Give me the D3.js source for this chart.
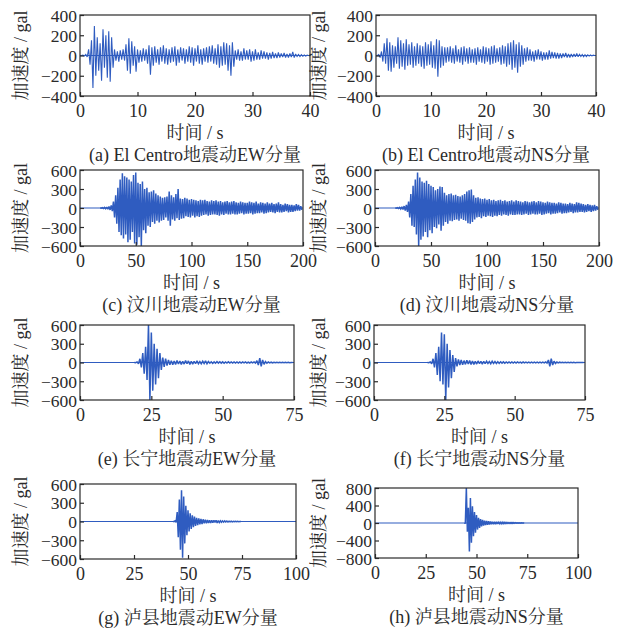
<!DOCTYPE html>
<html><head><meta charset="utf-8">
<script src="https://cdn.jsdelivr.net/npm/d3@7"></script>
<style>body{margin:0;background:#fff} svg{display:block}</style>
</head><body>
<svg id="chart" width="622" height="634"></svg>
<script>
// ---------- text ----------
const panelTitles = [
  "(a) El Centro地震动EW分量", "(b) El Centro地震动NS分量",
  "(c) 汶川地震动EW分量", "(d) 汶川地震动NS分量",
  "(e) 长宁地震动EW分量", "(f) 长宁地震动NS分量",
  "(g) 泸县地震动EW分量", "(h) 泸县地震动NS分量"
];
const xAxisLabel = "时间 / s";
const yAxisLabel = "加速度 / gal";

// ---------- ticks ----------
const xTicksElCentro = [0, 10, 20, 30, 40];
const xTicksWenchuan = [0, 50, 100, 150, 200];
const xTicksChangning = [0, 25, 50, 75];
const xTicksLuxian = [0, 25, 50, 75, 100];
const yTicks400 = [-400, -200, 0, 200, 400];
const yTicks600 = [-600, -300, 0, 300, 600];
const yTicks800 = [-800, -400, 0, 400, 800];

// ---------- series: start time (s), sample step (s), peak values (gal) ----------
const seriesStart = [0, 0, 18, 18, 19, 19, 43, 44];
const seriesStep  = [0.25, 0.25, 1, 1, 0.5, 0.5, 0.5, 0.5];

const elCentroEW = [
  0,0,5,-5, 10,-15,60,-90, 150,-320,290,-200, 180,-150,120,-250, 260,-120,200,-220,
  240,-260,180,-120, 60,-50,40,-60, 50,-40,60,-50, 110,-150,170,-180, 140,-100,90,-160,
  60,-70,50,-60, 70,-50,60,-80, 100,-190,80,-100, 90,-70,60,-90, 80,-60,100,-80,
  70,-90,60,-70, 80,-60,90,-100, 60,-70,80,-50, 70,-80,60,-60, 90,-70,80,-100,
  70,-60,100,-80, 60,-90,70,-60, 80,-70,90,-60, 100,-80,70,-90, 110,-120,90,-100,
  130,-90,120,-150, 100,-200,130,-110, 50,-40,60,-50, 40,-50,70,-40, 50,-40,60,-60,
  40,-50,60,-40, 30,-40,50,-30, 40,-30,30,-40, 25,-30,35,-25, 20,-25,30,-20,
  20,-15,25,-20, 15,-20,20,-15, 35,-20,15,-10, 10,-10,8,-8, 5,-5,3,0
];
const elCentroNS = [
  0,0,10,-20, 40,-60,120,-80, 170,-150,130,-160, 100,-120,90,-80, 180,-130,150,-110,
  120,-140,160,-100, 110,-90,130,-120, 90,-100,120,-80, 100,-110,90,-130, 130,-100,110,-90,
  140,-120,100,-130, 160,-210,150,-120, 90,-100,80,-70, 80,-60,90,-70, 70,-80,100,-60,
  60,-70,80,-90, 90,-60,70,-80, 80,-70,60,-70, 70,-90,80,-60, 60,-70,90,-80,
  80,-60,70,-90, 90,-80,100,-70, 70,-60,80,-90, 100,-80,90,-110, 120,-90,130,-140,
  150,-120,110,-170, 130,-110,100,-90, 70,-60,80,-50, 60,-50,40,-60, 50,-40,60,-40,
  40,-50,30,-40, 30,-40,50,-30, 35,-25,30,-30, 25,-30,20,-25, 20,-15,25,-20,
  15,-20,15,-15, 15,-12,20,-12, 12,-10,10,-12, 8,-10,6,-6, 5,-4,3,0
];
const wenchuanEW = [
  2,-2,
  5,-8,10,-12,15,-20,25,-30,40,-50,
  100,-150,200,-250,320,-380,450,-430,550,-480,
  500,-420,480,-540,450,-500,420,-380,520,-560,
  560,-580,400,-460,380,-600,420,-350,300,-400,
  320,-280,250,-300,260,-220,280,-250,230,-200,
  200,-230,180,-200,160,-190,170,-150,180,-200,
  260,-280,200,-180,170,-200,220,-160,300,-190,
  150,-170,140,-160,160,-130,150,-140,130,-150,
  140,-120,130,-150,120,-130,110,-140,130,-120,
  120,-110,130,-100,110,-120,100,-110,120,-100,
  110,-100,120,-110,100,-120,110,-100,90,-110,
  100,-90,110,-100,90,-100,100,-90,110,-100,
  90,-100,80,-90,100,-80,90,-100,80,-90,
  80,-90,100,-80,90,-100,80,-90,100,-80,
  70,-80,90,-70,80,-90,70,-80,90,-70,
  70,-60,80,-70,60,-80,70,-60,90,-70,
  60,-70,50,-60,70,-50,60,-70,50,-60,
  50,-60,40,-50,60,-40,50,-40,30,-30
];
const wenchuanNS = [
  2,-2,
  5,-8,10,-15,20,-25,30,-40,50,-60,
  100,-150,220,-280,350,-300,450,-420,560,-600,
  480,-500,420,-450,400,-380,430,-460,380,-350,
  350,-400,330,-300,280,-320,300,-260,340,-360,
  330,-280,240,-220,200,-250,220,-200,230,-210,
  200,-190,210,-180,190,-200,180,-170,200,-190,
  220,-200,260,-240,280,-250,290,-220,200,-180,
  160,-150,170,-140,150,-160,140,-130,150,-140,
  130,-120,140,-130,120,-140,130,-120,110,-130,
  120,-110,130,-120,110,-100,120,-110,100,-120,
  110,-100,120,-110,100,-110,120,-100,110,-100,
  100,-110,90,-100,110,-90,100,-110,90,-100,
  100,-90,110,-100,90,-100,110,-90,100,-110,
  90,-100,80,-90,100,-80,90,-100,80,-90,
  80,-90,70,-80,90,-70,80,-90,70,-80,
  70,-80,60,-70,80,-60,70,-80,60,-70,
  90,-70,80,-60,70,-60,60,-70,50,-60,
  60,-50,50,-60,40,-50,50,-40,30,-30
];
const changningEW = [
  0,-2,
  10,-20,60,-80,150,-180,250,-280,600,-600,
  480,-450,300,-350,220,-250,150,-120,80,-70,
  60,-50,40,-35,30,-35,25,-30,30,-25,
  25,-30,20,-25,30,-20,25,-30,20,-25,
  20,-20,25,-20,15,-20,20,-15,25,-20,
  15,-12,12,-15,10,-12,15,-10,12,-10,
  10,-12,10,-8,12,-10,8,-10,10,-8,
  8,-10,10,-8,8,-6,10,-8,6,-8,
  8,-6,10,-10,30,-40,70,-60,40,-30,
  15,-12,8,-6,5,-5,4,-5,3,-4,
  3,-3,2,-3,2,-2,2,-2,1,0
];
const changningNS = [
  0,-2,
  10,-20,60,-80,150,-200,250,-300,480,-350,
  450,-600,300,-400,200,-250,120,-150,70,-60,
  50,-40,40,-35,30,-30,35,-25,30,-30,
  25,-30,20,-25,25,-20,20,-25,20,-20,
  20,-15,15,-20,20,-15,15,-15,12,-15,
  12,-10,10,-12,8,-10,10,-8,10,-8,
  8,-8,10,-6,6,-8,8,-6,6,-6,
  6,-6,5,-6,6,-5,5,-6,5,-5,
  5,-5,8,-10,40,-60,60,-40,20,-15,
  8,-6,5,-4,3,-3,3,-3,2,-2,
  2,-2,2,-2,1,-1,1,-1,0,0
];
const luxianEW = [
  2,-2,10,-15, 150,-250,350,-450, 500,-580,400,-350, 250,-220,180,-160,
  130,-120,100,-90, 80,-70,60,-60, 50,-45,40,-40, 35,-30,30,-30,
  25,-25,20,-25, 20,-20,18,-15, 20,-25,15,-15, 12,-12,10,-10,
  10,-8,8,-8, 6,-6,5,-5, 4,-4,3,-3, 2,-2,1,0
];
const luxianNS = [
  5,-10,800,-200, 350,-650,570,-450, 380,-300,250,-220, 180,-150,120,-110,
  90,-80,70,-60, 55,-50,45,-40, 40,-35,35,-30, 30,-30,25,-25,
  25,-20,20,-20, 20,-18,18,-15, 15,-15,12,-12, 12,-10,10,-10,
  10,-8,8,-6, 5,-5,4,-3, 3,-2,2,0
];

const seriesValues = [elCentroEW, elCentroNS, wenchuanEW, wenchuanNS,
                      changningEW, changningNS, luxianEW, luxianNS];
const seriesXTicks = [xTicksElCentro, xTicksElCentro, xTicksWenchuan, xTicksWenchuan,
                      xTicksChangning, xTicksChangning, xTicksLuxian, xTicksLuxian];
const seriesYTicks = [yTicks400, yTicks400, yTicks600, yTicks600,
                      yTicks600, yTicks600, yTicks600, yTicks800];

// ---------- layout ----------
const boxes = [
  {l: 80, r: 310, t: 15, b: 96},  {l: 376, r: 596, t: 15, b: 96},
  {l: 80, r: 303, t: 170, b: 246}, {l: 375, r: 599, t: 170, b: 246},
  {l: 80, r: 294, t: 325, b: 400}, {l: 374, r: 585, t: 325, b: 400},
  {l: 80, r: 296, t: 484, b: 559}, {l: 375, r: 578, t: 488, b: 558}
];
const strokeW = [1.1, 1.1, 1.5, 1.5, 1.5, 1.5, 1.5, 1.5];
const yLabelX = [21, 319];
const FONT = '"Liberation Serif", "Times New Roman", "Noto Serif CJK SC", "Noto Sans CJK SC", serif';
const LINE = "#2f5cc0";
const INK = "#2a2a2a";

const svg = d3.select("#chart");

boxes.forEach((bx, i) => {
  const xt = seriesXTicks[i], yt = seriesYTicks[i];
  const x = d3.scaleLinear().domain([xt[0], xt[xt.length - 1]]).range([bx.l, bx.r]);
  const y = d3.scaleLinear().domain([yt[0], yt[yt.length - 1]]).range([bx.b, bx.t]);
  const g = svg.append("g");

  // zero baseline of the record
  g.append("path")
    .attr("d", d3.line()([[x(xt[0]), y(0)], [x(xt[xt.length - 1]), y(0)]]))
    .attr("stroke", LINE).attr("stroke-width", 1.1).attr("fill", "none");

  // waveform
  const vals = seriesValues[i];
  const line = d3.line()
    .x((d, k) => x(seriesStart[i] + k * seriesStep[i]))
    .y(d => y(d));
  g.append("path")
    .attr("d", line(vals))
    .attr("stroke", LINE).attr("stroke-width", strokeW[i])
    .attr("stroke-linejoin", "miter").attr("stroke-miterlimit", 2)
    .attr("fill", "none");

  // axes
  const ax = g.append("g").attr("transform", `translate(0,${bx.b})`)
    .call(d3.axisBottom(x).tickValues(xt).tickSizeInner(-4).tickSizeOuter(0).tickPadding(0));
  ax.select(".domain").remove();
  ax.selectAll("line").attr("stroke", INK).attr("stroke-width", 1.2);
  ax.selectAll("text").attr("y", 15).attr("dy", "0.35em")
    .attr("font-family", FONT).attr("font-size", 18).attr("fill", INK);

  const ay = g.append("g").attr("transform", `translate(${bx.l},0)`)
    .call(d3.axisLeft(y).tickValues(yt).tickSizeInner(-4).tickSizeOuter(0).tickPadding(3));
  ay.select(".domain").remove();
  ay.selectAll("line").attr("stroke", INK).attr("stroke-width", 1.2);
  ay.selectAll("text").attr("x", -3).attr("dy", "0.35em")
    .attr("font-family", FONT).attr("font-size", 17.5).attr("fill", INK);

  // frame
  g.append("rect")
    .attr("x", bx.l).attr("y", bx.t)
    .attr("width", bx.r - bx.l).attr("height", bx.b - bx.t)
    .attr("fill", "none").attr("stroke", INK).attr("stroke-width", 1.2);

  const cx = (bx.l + bx.r) / 2;
  g.append("text").text(xAxisLabel)
    .attr("x", cx).attr("y", bx.b + 37).attr("dy", "0.35em")
    .attr("text-anchor", "middle")
    .attr("font-family", FONT).attr("font-size", 18).attr("fill", INK);
  g.append("text").text(panelTitles[i])
    .attr("x", cx).attr("y", bx.b + 59).attr("dy", "0.35em")
    .attr("text-anchor", "middle")
    .attr("font-family", FONT).attr("font-size", 18).attr("fill", INK);
  const lx = yLabelX[i % 2], ly = (bx.t + bx.b) / 2;
  g.append("text").text(yAxisLabel)
    .attr("transform", `translate(${lx},${ly}) rotate(-90)`)
    .attr("dy", "0.35em")
    .attr("text-anchor", "middle")
    .attr("font-family", FONT).attr("font-size", 18).attr("fill", INK);
});
</script>
</body></html>
